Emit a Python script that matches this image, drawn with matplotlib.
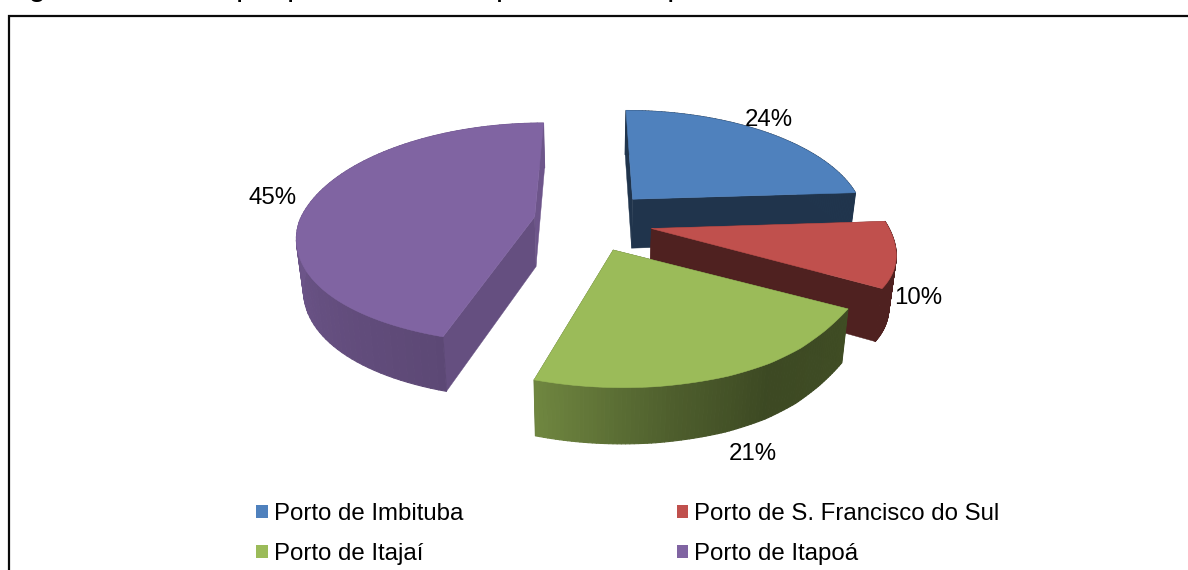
import numpy as np
import matplotlib
matplotlib.use("Agg")
import matplotlib.pyplot as plt
from matplotlib.patches import Patch
from matplotlib.colors import to_rgb

plt.rcParams['font.family'] = ['Liberation Sans', 'DejaVu Sans']

# ---- data ----
categories = ['Porto de Imbituba', 'Porto de S. Francisco do Sul', 'Porto de Itajaí', 'Porto de Itapoá']
values = [24, 10, 21, 45]
value_labels = ['24%', '10%', '21%', '45%']
colors = ['#4F81BD', '#C0504D', '#9BBB59', '#8064A2']
explode = [0.275, 0.265, 0.265, 0.24]

# ---- projection of the exploded 3D pie ----
CX, CY = 590.0, 221.0
RX, RY = 235.0, 113.0
PERSP = 0.19
DEPTH = 50.0
SHRINK = 0.976


def project(u, v, bottom=False):
    u = np.asarray(u, dtype=float)
    v = np.asarray(v, dtype=float)
    s = 1.0 / (1.0 + PERSP * v)
    front = np.maximum(0.0, -v)
    x = CX + RX * u * s + front * np.interp(u, [-1.3, -0.2, 0.1, 0.9], [9, 9, 4, 0])
    g = 1.0 + front * np.interp(u, [-1.3, 0.2, 0.45, 0.6, 0.72, 0.82, 0.93, 1.3],
                                [-0.08, -0.08, -0.085, -0.095, -0.115, -0.15, -0.2, -0.2])
    y = CY - RY * v * s * g
    if bottom:
        x = CX + (x - CX) * SHRINK
        y = y + DEPTH * (1 - 0.1 * v)
    return x, y


def shade(angle):
    return np.interp(angle, [100, 125, 150, 170, 198, 270, 360],
                     [0.41, 0.41, 0.39, 0.50, 0.72, 0.86, 0.86])


def scaled(color, f):
    return tuple(c * f for c in to_rgb(color))


def quad(ax, xs, ys, color, lw=0.8):
    ax.fill(xs, ys, facecolor=color, edgecolor=color, linewidth=lw, joinstyle='round')


fig = plt.figure(figsize=(11.88, 5.70), dpi=100, facecolor='white')
ax = fig.add_axes([0, 0, 1, 1])
ax.set_xlim(0, 1188)
ax.set_ylim(570, 0)
ax.axis('off')

# chart frame (cut off at the right and bottom of the picture)
ax.plot([9, 9, 1190], [575, 15.8, 15.8], color='#0a0a0a', lw=1.6, solid_joinstyle='miter')

# slice angles, clockwise from twelve o'clock
edges = np.concatenate([[0], np.cumsum(values)]) / np.sum(values) * 360.0
slices = [(i, edges[i], edges[i + 1], col) for i, col in enumerate(colors)]

# painter's order: back to front
side_factor = {0: (0.40, 0.40), 1: (0.41, 0.41), 2: (0.39, 0.39), 3: (0.79, 0.85)}
for i, a0, a1, col in [slices[3], slices[0], slices[1], slices[2]]:
    mid = np.radians((a0 + a1) / 2)
    ou, ov = explode[i] * np.sin(mid), explode[i] * np.cos(mid)
    ang = np.linspace(a0, a1, 90)
    u = ou + np.sin(np.radians(ang))
    v = ov + np.cos(np.radians(ang))
    xt, yt = project(u, v)
    xb, yb = project(u, v, True)
    ax_, ay_ = project(ou, ov)
    bx_, by_ = project(ou, ov, True)

    # the two radial faces
    for idx, f in [(-1, side_factor[i][1]), (0, side_factor[i][0])]:
        quad(ax, [ax_, xt[idx], xb[idx], bx_], [ay_, yt[idx], yb[idx], by_], scaled(col, f), lw=0.3)

    # rim, shaded along the arc
    for k in range(len(ang) - 1):
        f = shade((ang[k] + ang[k + 1]) / 2)
        quad(ax, [xt[k], xt[k + 1], xb[k + 1], xb[k]],
             [yt[k], yt[k + 1], yb[k + 1], yb[k]], scaled(col, f))

    # top
    ax.fill(np.r_[ax_, xt], np.r_[ay_, yt], facecolor=col, edgecolor=col, linewidth=0.4)

# data labels
ax.text(769, 120.5, value_labels[0], fontsize=17.3, ha='center', va='center', color='black')
ax.text(918, 298.5, value_labels[1], fontsize=17.3, ha='center', va='center', color='black')
ax.text(753, 454.5, value_labels[2], fontsize=17.3, ha='center', va='center', color='black')
ax.text(273, 198.5, value_labels[3], fontsize=17.3, ha='center', va='center', color='black')

# legend (columns fill first, so the order gives the reference's rows)
order = [0, 2, 1, 3]
handles = [Patch(facecolor=colors[j], edgecolor='none') for j in order]
labels = [categories[j] for j in order]
ax.legend(handles, labels, ncol=2, loc='upper left', bbox_to_anchor=(256, 503),
          bbox_transform=ax.transData, frameon=False, fontsize=17.3,
          handlelength=0.48, handleheight=0.48, handletextpad=0.25,
          columnspacing=8.9, labelspacing=0.76, borderpad=0, borderaxespad=0)

# caption, cut off by the top of the picture
cap = dict(fontsize=22.8, va='baseline', ha='left', color='black', clip_on=True)
ax.text(2, -5.5, 'Figura 3', **cap)
ax.text(157, -5.5, 'Principal porto utilizado', **cap)
ax.text(496, -5.5, 'para o', **cap)
ax.text(597, -5.5, 'transporte internacional', **cap)

fig.savefig('out.png', dpi=100, facecolor='white')
